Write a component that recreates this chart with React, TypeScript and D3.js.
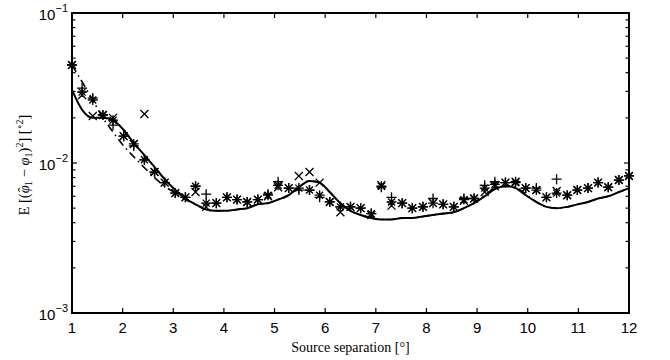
import React from 'react';
import * as d3 from 'd3';

// source separation in degrees (55 evaluation points)
const sepDeg = [
  1.00, 1.20, 1.41, 1.61, 1.81, 2.02, 2.22, 2.43, 2.63, 2.83,
  3.04, 3.24, 3.44, 3.65, 3.85, 4.06, 4.26, 4.46, 4.67, 4.87,
  5.07, 5.28, 5.48, 5.69, 5.89, 6.09, 6.30, 6.50, 6.70, 6.91,
  7.11, 7.31, 7.52, 7.72, 7.93, 8.13, 8.33, 8.54, 8.74, 8.94,
  9.15, 9.35, 9.56, 9.76, 9.96, 10.17, 10.37, 10.57, 10.78, 10.98,
  11.19, 11.39, 11.59, 11.80, 12.00,
];

// '+' markers
const msePlus = [
  0.0450, 0.0316, 0.0271, 0.0209, 0.0179, 0.0151, 0.0130, 0.0105, 0.0087, 0.0074,
  0.0063, 0.0059, 0.0070, 0.0062, 0.0054, 0.0059, 0.0057, 0.0055, 0.0057, 0.0062,
  0.0075, 0.0068, 0.0066, 0.0066, 0.0059, 0.0055, 0.0051, 0.0051, 0.0050, 0.0046,
  0.0069, 0.0059, 0.0054, 0.0050, 0.0051, 0.0058, 0.0053, 0.0051, 0.0058, 0.0058,
  0.0071, 0.0075, 0.0074, 0.0075, 0.0068, 0.0068, 0.0059, 0.0078, 0.0061, 0.0066,
  0.0068, 0.0074, 0.0069, 0.0077, 0.0082,
];

// 'x' markers
const mseCross = [
  0.0450, 0.0284, 0.0206, 0.0209, 0.0200, 0.0151, 0.0134, 0.0212, 0.0087, 0.0074,
  0.0063, 0.0059, 0.0064, 0.0051, 0.0054, 0.0059, 0.0057, 0.0055, 0.0057, 0.0060,
  0.0069, 0.0068, 0.0082, 0.0087, 0.0074, 0.0055, 0.0047, 0.0051, 0.0050, 0.0045,
  0.0071, 0.0052, 0.0054, 0.0050, 0.0051, 0.0054, 0.0053, 0.0051, 0.0056, 0.0058,
  0.0064, 0.0070, 0.0074, 0.0075, 0.0068, 0.0066, 0.0059, 0.0065, 0.0061, 0.0066,
  0.0068, 0.0074, 0.0069, 0.0077, 0.0082,
];

// '*' markers
const mseStar = [
  0.0450, 0.0297, 0.0263, 0.0209, 0.0193, 0.0151, 0.0134, 0.0105, 0.0087, 0.0074,
  0.0063, 0.0059, 0.0070, 0.0054, 0.0054, 0.0059, 0.0057, 0.0055, 0.0057, 0.0061,
  0.0071, 0.0068, 0.0068, 0.0066, 0.0061, 0.0055, 0.0051, 0.0051, 0.0050, 0.0046,
  0.0070, 0.0055, 0.0054, 0.0050, 0.0051, 0.0054, 0.0053, 0.0051, 0.0057, 0.0058,
  0.0068, 0.0072, 0.0074, 0.0074, 0.0068, 0.0066, 0.0059, 0.0063, 0.0061, 0.0066,
  0.0068, 0.0074, 0.0069, 0.0077, 0.0082,
];

// solid bound
const boundSolid = [
  0.0307, 0.0226, 0.0200, 0.0200, 0.0193, 0.0166, 0.0136, 0.0113, 0.0094, 0.0078,
  0.0066, 0.0058, 0.0053, 0.0049, 0.0048, 0.0048, 0.0049, 0.0050, 0.0053, 0.0054,
  0.0057, 0.0061, 0.0069, 0.0076, 0.0074, 0.0064, 0.0054, 0.0048, 0.0045, 0.0043,
  0.0042, 0.0042, 0.0043, 0.0043, 0.0044, 0.0045, 0.0046, 0.0047, 0.0050, 0.0054,
  0.0060, 0.0067, 0.0070, 0.0068, 0.0061, 0.0055, 0.0051, 0.0050, 0.0051, 0.0053,
  0.0055, 0.0058, 0.0060, 0.0064, 0.0068,
];

// dash-dot bound
const boundDashDot = [
  0.0450, 0.0347, 0.0263, 0.0200, 0.0161, 0.0130, 0.0110, 0.0093, 0.0080, 0.0070,
  0.0063, 0.0057, 0.0053, 0.0049, 0.0048, 0.0048, 0.0049, 0.0050, 0.0053, 0.0054,
  0.0057, 0.0061, 0.0069, 0.0076, 0.0074, 0.0064, 0.0054, 0.0048, 0.0045, 0.0043,
  0.0042, 0.0042, 0.0043, 0.0043, 0.0044, 0.0045, 0.0046, 0.0047, 0.0050, 0.0054,
  0.0061, 0.0068, 0.0071, 0.0069, 0.0062, 0.0055, 0.0051, 0.0050, 0.0051, 0.0053,
  0.0055, 0.0058, 0.0060, 0.0064, 0.0068,
];

const xTicks = [1, 2, 3, 4, 5, 6, 7, 8, 9, 10, 11, 12];
const yDecades = [-3, -2, -1];

const width = 670;
const height = 360;
const margin = { top: 13, right: 41, bottom: 47, left: 72 };

const sansFont = '"Liberation Sans", Arial, sans-serif';
const serifFont = '"Liberation Serif", "DejaVu Serif", serif';

const plusPath = (x: number, y: number, r = 5) =>
  `M${x - r},${y}H${x + r}M${x},${y - r}V${y + r}`;
const crossPath = (x: number, y: number, r = 4) =>
  `M${x - r},${y - r}L${x + r},${y + r}M${x - r},${y + r}L${x + r},${y - r}`;
const starPath = (x: number, y: number) => plusPath(x, y, 5) + crossPath(x, y, 3.5);

export default function App() {
  const x0 = margin.left;
  const x1 = width - margin.right;
  const y0 = height - margin.bottom;
  const y1 = margin.top;

  const xScale = d3.scaleLinear().domain([1, 12]).range([x0, x1]);
  const yScale = d3.scaleLog().domain([1e-3, 1e-1]).range([y0, y1]);

  const line = d3.line<number>()
    .x((_, i) => xScale(sepDeg[i]))
    .y(d => yScale(d))
    .curve(d3.curveMonotoneX);

  const minorTicks: number[] = [];
  yDecades.slice(0, 2).forEach(e => {
    for (let m = 2; m <= 9; m++) minorTicks.push(m * Math.pow(10, e));
  });

  const tickLen = 5;
  const minorLen = 3.5;

  return (
    <svg width={width} height={height} style={{ position: 'absolute', left: 0, top: 0, background: '#fff' }}>
      <rect x={0} y={0} width={width} height={height} fill="#fff" />

      {/* lines */}
      <path d={line(boundSolid) || ''} fill="none" stroke="#000" strokeWidth={2} />
      <path d={line(boundDashDot) || ''} fill="none" stroke="#000" strokeWidth={1.6}
        strokeDasharray="8,4,1.5,4" />

      {/* markers */}
      <g stroke="#000" strokeWidth={1.3} fill="none">
        {msePlus.map((v, i) => <path key={'p' + i} d={plusPath(xScale(sepDeg[i]), yScale(v))} />)}
        {mseCross.map((v, i) => <path key={'c' + i} d={crossPath(xScale(sepDeg[i]), yScale(v))} />)}
        {mseStar.map((v, i) => <path key={'s' + i} d={starPath(xScale(sepDeg[i]), yScale(v))} />)}
      </g>

      {/* ticks */}
      <g stroke="#000" strokeWidth={1.2}>
        {xTicks.map(t => (
          <g key={'xt' + t}>
            <line x1={xScale(t)} x2={xScale(t)} y1={y0} y2={y0 - tickLen} />
            <line x1={xScale(t)} x2={xScale(t)} y1={y1} y2={y1 + tickLen} />
          </g>
        ))}
        {yDecades.map(e => (
          <g key={'yt' + e}>
            <line x1={x0} x2={x0 + tickLen} y1={yScale(Math.pow(10, e))} y2={yScale(Math.pow(10, e))} />
            <line x1={x1} x2={x1 - tickLen} y1={yScale(Math.pow(10, e))} y2={yScale(Math.pow(10, e))} />
          </g>
        ))}
        {minorTicks.map((t, i) => (
          <g key={'ym' + i}>
            <line x1={x0} x2={x0 + minorLen} y1={yScale(t)} y2={yScale(t)} />
            <line x1={x1} x2={x1 - minorLen} y1={yScale(t)} y2={yScale(t)} />
          </g>
        ))}
      </g>

      {/* frame */}
      <rect x={x0} y={y1} width={x1 - x0} height={y0 - y1} fill="none" stroke="#000" strokeWidth={2} />

      {/* tick labels */}
      <g fontFamily={sansFont} fontSize={15} fill="#000">
        {xTicks.map(t => (
          <text key={'xl' + t} x={xScale(t)} y={y0 + 20} textAnchor="middle">{t}</text>
        ))}
        {yDecades.map(e => (
          <text key={'yl' + e} x={x0 - 4} y={yScale(Math.pow(10, e)) + 7} textAnchor="end">
            10<tspan dy={-8} fontSize={11}>{'\u2212' + Math.abs(e)}</tspan>
          </text>
        ))}
      </g>

      {/* axis labels */}
      <text x={(x0 + x1) / 2} y={352} textAnchor="middle" fontFamily={serifFont} fontSize={14}>
        Source separation [°]
      </text>
      <text transform={`translate(29,${(y0 + y1) / 2 + 2}) rotate(-90)`} textAnchor="middle"
        fontFamily={serifFont} fontSize={14.5}>
        E [(<tspan fontStyle="italic">{'\u03c6'}</tspan>
        <tspan dx={-7} dy={-1}>{'\u02c6'}</tspan>
        <tspan dx={1.5} dy={4} fontSize={10}>1</tspan>
        <tspan dy={-3}>{' \u2212 '}</tspan>
        <tspan fontStyle="italic">{'\u03c6'}</tspan>
        <tspan dy={3} fontSize={10}>1</tspan>
        <tspan dy={-3}>)</tspan>
        <tspan dy={-6} fontSize={10}>2</tspan>
        <tspan dy={6}>] [</tspan>
        <tspan dy={-6} fontSize={10}>{'\u2218'}2</tspan>
        <tspan dy={6}>]</tspan>
      </text>
    </svg>
  );
}
